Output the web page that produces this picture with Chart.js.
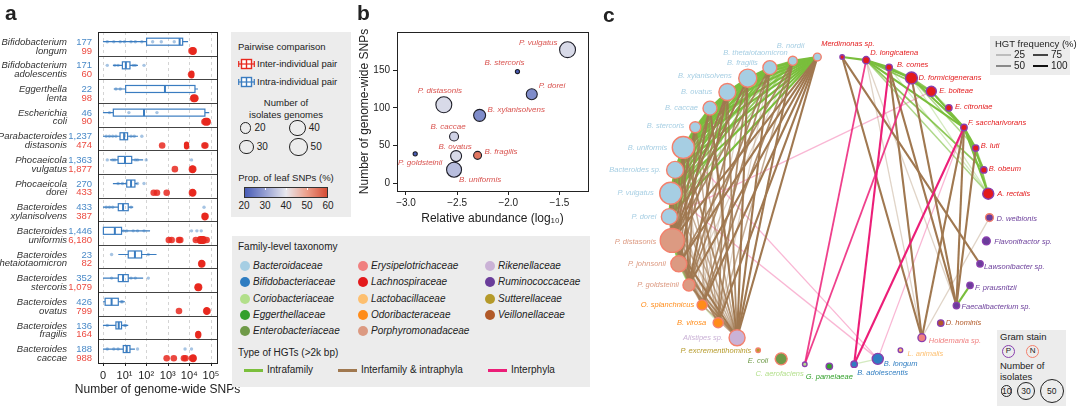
<!DOCTYPE html>
<html>
<head>
<meta charset="utf-8">
<script src="https://cdn.jsdelivr.net/npm/chart.js@4.4.1/dist/chart.umd.min.js"></script>
<style>
  body { margin: 0; background: #fff; font-family: "Liberation Sans", Arial, Helvetica, sans-serif; color: #222; }
  #wrap { position: relative; width: 1080px; height: 415px; overflow: hidden; }
  canvas { position: absolute; }
  .abs { position: absolute; white-space: nowrap; line-height: 1; }
  .panel { position: absolute; font-weight: bold; font-size: 21px; line-height: 1; }
  .box { position: absolute; background: #ececec; }
</style>
</head>
<body>
<div id="wrap">
  <canvas id="ca" width="250" height="415" style="left:0;top:0"></canvas>
  <div class="box" style="left:231px;top:32px;width:120px;height:185px"></div>
  <div class="box" style="left:232px;top:236px;width:358px;height:151px"></div>
  <canvas id="cb" width="250" height="232" style="left:355px;top:0"></canvas>
  <canvas id="cc" width="480" height="415" style="left:600px;top:0"></canvas>
  <div class="box" style="left:990px;top:36px;width:80px;height:39px"></div>
  <div class="box" style="left:997px;top:330px;width:69px;height:76px"></div>
  <div class="panel" style="left:5px;top:2px">a</div>
  <div class="panel" style="left:357px;top:2px">b</div>
  <div class="panel" style="left:603px;top:4px">c</div>
</div>
<script>
// ---------- panel a : SNPs per species (log10 scale, 0 shown at 10^0) ----------
const speciesA = [
  ['Bifidobacterium', 'longum'], ['Bifidobacterium', 'adolescentis'], ['Eggerthella', 'lenta'],
  ['Escherichia', 'coli'], ['Parabacteroides', 'distasonis'], ['Phocaeicola', 'vulgatus'],
  ['Phocaeicola', 'dorei'], ['Bacteroides', 'xylanisolvens'], ['Bacteroides', 'uniformis'],
  ['Bacteroides', 'thetaiotaomicron'], ['Bacteroides', 'stercoris'], ['Bacteroides', 'ovatus'],
  ['Bacteroides', 'fragilis'], ['Bacteroides', 'caccae']
];
const intraN = ['177', '171', '22', '46', '1,237', '1,363', '270', '433', '1,446', '23', '352', '426', '136', '188'];
const interN = ['99', '60', '98', '90', '474', '1,877', '433', '387', '6,180', '82', '1,079', '799', '164', '988'];
// [min, q1, median, q3, max] in log10 units
const intraBox = [
  [0, 2.02, 3.55, 3.69, 3.94], [0.46, 0.9, 1.06, 1.25, 1.62], [0.5, 1.05, 2.87, 4.26, 4.4],
  [0, 0.48, 1.9, 4.72, 4.92], [0, 0.79, 0.98, 1.14, 1.62], [0.32, 0.7, 1.02, 1.33, 1.86],
  [0.46, 1.1, 1.3, 1.48, 1.6], [0, 0.71, 0.93, 1.17, 1.4], [0, 0.02, 0.55, 0.86, 2.18],
  [0.71, 1.17, 1.48, 1.79, 2.48], [0, 0.71, 0.93, 1.17, 1.86], [0, 0.1, 0.4, 0.71, 1.02],
  [0, 0.6, 0.73, 0.86, 1.17], [0, 0.94, 1.1, 1.25, 1.48]
];
const interBox = [
  [4.02, 4.1, 4.15, 4.22, 4.3], [4.02, 4.07, 4.1, 4.14, 4.2], [4.1, 4.15, 4.22, 4.3, 4.38],
  [4.6, 4.7, 4.8, 4.87, 4.95], [3.8, 3.84, 3.87, 3.9, 3.95], [4.05, 4.1, 4.15, 4.2, 4.28],
  [4.05, 4.1, 4.15, 4.2, 4.28], [4.65, 4.68, 4.72, 4.76, 4.8], [4.25, 4.45, 4.55, 4.7, 4.85],
  [4.45, 4.52, 4.57, 4.62, 4.7], [4.25, 4.35, 4.41, 4.48, 4.55], [4.7, 4.76, 4.8, 4.85, 4.9],
  [4.35, 4.38, 4.41, 4.44, 4.48], [4.05, 4.12, 4.17, 4.22, 4.28]
];
const intraPts = [
  [0.2, 0.5, 0.8, 1.0, 1.3, 1.5, 1.8, 2.3, 2.7, 3.3], [0.2, 0.55, 0.7, 1.4, 1.5, 1.9], [0.6, 0.8],
  [0.3, 1.2, 2.5], [0.15, 0.3, 0.45, 0.6, 1.3, 1.45, 1.8], [0.2, 0.45, 0.55, 1.5, 1.6, 2.0, 4.1],
  [0.7, 0.9, 1.6, 1.9], [0.15, 0.3, 0.45, 1.3, 4.68], [0.95, 1.1, 1.4, 1.6, 1.9, 4.1, 4.35, 4.55],
  [0.4, 2.1], [0.4, 1.3, 1.5, 2.1], [0.85, 0.9], [0.2, 1.0, 1.05], [0.2, 0.5, 0.7, 1.6, 3.8, 4.1]
];
const interPts = [
  [4.1, 4.2], [4.08], [4.18, 4.28], [4.7, 4.85], [2.74, 4.7, 4.74], [3.33, 4.12, 4.18],
  [2.35, 2.5, 2.95, 4.12, 4.18], [4.7, 4.75], [3.05, 3.18, 3.52, 3.58, 4.3, 4.8], [4.55, 4.6],
  [4.38, 4.45], [3.52, 4.78, 4.84], [4.41], [2.95, 3.28, 3.75, 3.82, 4.12, 4.2]
];
const snpTicks = [0, 1, 2, 3, 4, 5];
const snpTickLabels = ['0', '10¹', '10²', '10³', '10⁴', '10⁵'];

// ---------- panel b ----------
const bSpecies = ['P. vulgatus', 'B. stercoris', 'P. dorei', 'P. distasonis', 'B. xylanisolvens',
  'B. caccae', 'B. ovatus', 'B. fragilis', 'P. goldsteinii', 'B. uniformis'];
const bAbundance = [-1.42, -1.91, -1.77, -2.63, -2.28, -2.53, -2.51, -2.30, -2.91, -2.53];
const bSnps = [177, 148, 118, 104, 90, 62, 36, 37, 39, 18];
const bGenomes = [44, 3, 21, 44, 25, 14, 21, 11, 3, 39];
const bLeafProp = [38, 15, 27, 38, 27, 37, 38, 55, 15, 34];
const bXTicks = [-3, -2.5, -2, -1.5];
const bYTicks = [0, 50, 100, 150];

// ---------- panel c : HGT network ----------
const families = ['Bacteroidaceae', 'Bifidobacteriaceae', 'Coriobacteriaceae', 'Eggerthellaceae', 'Enterobacteriaceae',
  'Erysipelotrichaceae', 'Lachnospiraceae', 'Lactobacillaceae', 'Odoribacteraceae', 'Porphyromonadaceae',
  'Rikenellaceae', 'Ruminococcaceae', 'Sutterellaceae', 'Veillonellaceae'];
const familyColors = ['#a6cee3', '#2f7dc1', '#b2df8a', '#33a02c', '#6f9a48',
  '#f08080', '#e31a1c', '#fdbf6f', '#ff8c1a', '#dc9a82',
  '#cab2d6', '#6a3d9a', '#b59a2a', '#b15928'];

const nodeIds = ['nor', 'the', 'fra', 'xyl', 'ova', 'cac', 'ste', 'uni', 'bsp', 'vul', 'dor', 'dis', 'joh', 'gol',
  'spl', 'vir', 'ali', 'exc', 'col', 'aer', 'pam', 'ado', 'lon', 'ani', 'hol', 'dho', 'fae', 'pra', 'law', 'fla',
  'wel', 'rec', 'obe', 'lut', 'sac', 'cit', 'bol', 'for', 'com', 'dlo', 'mer'];
const nodeNames = ['B. nordii', 'B. thetaiotaomicron', 'B. fragilis', 'B. xylanisolvens', 'B. ovatus', 'B. caccae',
  'B. stercoris', 'B. uniformis', 'Bacteroides sp.', 'P. vulgatus', 'P. dorei', 'P. distasonis', 'P. johnsonii',
  'P. goldsteinii', 'O. splanchnicus', 'B. virosa', 'Alistipes sp.', 'P. excrementihominis', 'E. coli',
  'C. aerofaciens', 'G. pamelaeae', 'B. adolescentis', 'B. longum', 'L. animalis', 'Holdemania sp.', 'D. hominis',
  'Faecalibacterium sp.', 'F. prausnitzii', 'Lawsonibacter sp.', 'Flavonifractor sp.', 'D. welbionis', 'A. rectalis',
  'B. obeum', 'B. luti', 'F. saccharivorans', 'E. citroniae', 'E. bolteae', 'D. formicigenerans', 'B. comes',
  'D. longicatena', 'Merdimonas sp.'];
const nodeFamily = ['Bacteroidaceae', 'Bacteroidaceae', 'Bacteroidaceae', 'Bacteroidaceae', 'Bacteroidaceae',
  'Bacteroidaceae', 'Bacteroidaceae', 'Bacteroidaceae', 'Bacteroidaceae', 'Bacteroidaceae', 'Bacteroidaceae',
  'Porphyromonadaceae', 'Porphyromonadaceae', 'Porphyromonadaceae', 'Odoribacteraceae', 'Odoribacteraceae',
  'Rikenellaceae', 'Sutterellaceae', 'Enterobacteriaceae', 'Coriobacteriaceae', 'Eggerthellaceae',
  'Bifidobacteriaceae', 'Bifidobacteriaceae', 'Lactobacillaceae', 'Erysipelotrichaceae', 'Veillonellaceae',
  'Ruminococcaceae', 'Ruminococcaceae', 'Ruminococcaceae', 'Ruminococcaceae', 'Ruminococcaceae',
  'Lachnospiraceae', 'Lachnospiraceae', 'Lachnospiraceae', 'Lachnospiraceae', 'Lachnospiraceae',
  'Lachnospiraceae', 'Lachnospiraceae', 'Lachnospiraceae', 'Lachnospiraceae', 'Lachnospiraceae'];
const nodeGram = ['N', 'N', 'N', 'N', 'N', 'N', 'N', 'N', 'N', 'N', 'N', 'N', 'N', 'N', 'N', 'N', 'N', 'N', 'N',
  'P', 'P', 'P', 'P', 'P', 'P', 'P', 'P', 'P', 'P', 'P', 'N', 'P', 'P', 'P', 'P', 'P', 'P', 'P', 'P', 'P', 'P'];
const nodeIsolates = [6, 8, 19, 32, 28, 19, 12, 47, 28, 47, 25, 56, 25, 14, 10, 10, 25, 2, 14, 2, 4, 4, 12, 2, 6,
  4, 4, 4, 4, 6, 6, 12, 4, 4, 4, 4, 10, 14, 4, 5, 2];
// network layout coordinates
const nodeX = [216, 190, 165.7, 142.3, 120.7, 102.3, 86.7, 74, 65.3, 60.7, 59.3, 62.3, 69.3, 80, 94, 111, 131, 153.3,
  177.7, 202.7, 228.7, 255, 280, 304, 326.7, 346.7, 363.3, 377.7, 388.3, 395, 398.3, 397, 392.3, 383.7, 371.3,
  355.3, 336.7, 315.7, 292, 267.7, 242.3];
const nodeY = [46.7, 50.7, 58, 69.3, 84, 101.3, 121.7, 143.3, 167.3, 192.3, 217.3, 242.7, 267.7, 290.3, 311.7, 330.7,
  346.7, 360, 369.3, 375, 377.3, 375, 369.3, 360, 346.7, 331, 312.3, 290.7, 267.7, 243.3, 218.3, 192.7, 167.3, 144,
  122, 101, 83.3, 69, 57.7, 50, 46.7];

// edges "a-b:frequency%"
const intraFamilyEdges = ('nor-the:100 nor-fra:100 nor-xyl:100 nor-ova:100 nor-cac:100 nor-ste:100 nor-uni:100 ' +
  'nor-bsp:100 nor-vul:100 nor-dor:100 the-fra:75 the-xyl:75 the-ova:75 the-cac:50 the-ste:50 the-uni:75 ' +
  'the-bsp:50 the-vul:75 the-dor:50 fra-xyl:100 fra-ova:100 fra-cac:75 fra-ste:50 fra-uni:100 fra-bsp:75 ' +
  'fra-vul:100 fra-dor:75 xyl-ova:100 xyl-cac:75 xyl-ste:50 xyl-uni:100 xyl-bsp:75 xyl-vul:100 xyl-dor:75 ' +
  'ova-cac:100 ova-ste:75 ova-uni:100 ova-bsp:75 ova-vul:100 ova-dor:75 cac-ste:75 cac-uni:100 cac-bsp:50 ' +
  'cac-vul:75 cac-dor:50 ste-uni:75 ste-bsp:50 ste-vul:75 ste-dor:50 uni-bsp:100 uni-vul:100 uni-dor:75 ' +
  'bsp-vul:100 bsp-dor:75 vul-dor:100 dis-joh:75 dis-gol:50 joh-gol:50 spl-vir:25 ' +
  'mer-dlo:100 dlo-com:100 dlo-for:100 dlo-bol:75 dlo-sac:100 dlo-obe:75 dlo-rec:50 com-for:75 com-bol:50 ' +
  'com-rec:25 for-bol:75 for-sac:100 bol-sac:100 for-lut:50 sac-lut:100 sac-obe:100 sac-rec:100 lut-rec:75 ' +
  'lut-obe:50 for-rec:25 bol-cit:25 fae-pra:100 ado-lon:25').split(' ');
const interFamilyEdges = ('nor-ali:100 the-ali:100 fra-ali:100 xyl-ali:100 ova-ali:75 cac-ali:100 uni-ali:75 ' +
  'ste-ali:50 bsp-ali:50 dis-ali:100 joh-ali:75 vul-ali:50 nor-vir:100 xyl-vir:75 ova-vir:75 uni-vir:50 ' +
  'dis-vir:75 nor-spl:100 the-spl:75 fra-spl:75 cac-spl:50 dis-spl:75 joh-spl:50 nor-gol:100 fra-gol:75 ' +
  'xyl-gol:75 ova-gol:100 ste-gol:75 uni-gol:100 vul-gol:75 bsp-gol:50 nor-joh:100 the-joh:75 ova-joh:75 ' +
  'cac-joh:100 uni-joh:75 ste-joh:50 vul-joh:50 nor-dis:100 fra-dis:75 xyl-dis:100 ova-dis:100 cac-dis:75 ' +
  'ste-dis:100 uni-dis:75 bsp-dis:75 vul-dis:100 dor-dis:75 the-vir:50 ste-vir:50 dor-gol:50 dor-ali:50 ' +
  'dor-spl:50 vul-spl:25 bsp-spl:25 gol-ali:75 spl-ali:50 cac-vir:25 the-gol:25 fra-vir:25 xyl-spl:25 ' +
  'ova-spl:25 uni-spl:25 bsp-vir:25 vul-vir:25 dor-vir:25 bsp-joh:25 dor-joh:25 ' +
  'mer-hol:100 mer-law:100 dlo-fae:25 com-fae:100 com-hol:100 for-fae:100 sac-fae:100 lut-fae:100 ' +
  'sac-hol:100 hol-wel:25 dlo-hol:25').split(' ');
const interPhylaEdges = ('com-ado:100 sac-ado:100 dlo-aer:75 for-aer:75 lon-sac:25 uni-lon:25 vul-lon:25 ' +
  'dor-bol:25').split(' ');
const hgtFreqLevels = [25, 50, 75, 100];
</script>
<script>
const FONT = '"Liberation Sans", Arial, Helvetica, sans-serif';
Chart.defaults.font.family = FONT;
Chart.defaults.color = '#222';
Chart.defaults.animation = false;
Chart.defaults.events = [];
Chart.defaults.plugins.legend.display = false;
Chart.defaults.plugins.tooltip.enabled = false;

const BLUE = '#3a7cc0';
const RED = '#e8281e';
const wrap = document.getElementById('wrap');

function put(x, y, html, css, anchor) {
  const d = document.createElement('div');
  d.className = 'abs';
  d.innerHTML = html;
  d.style.cssText = `left:${x}px;top:${y}px;` + (css || '');
  d.style.transform = anchor === 'c' ? 'translate(-50%,-50%)' : anchor === 'r' ? 'translate(-100%,-50%)' : 'translateY(-50%)';
  wrap.appendChild(d);
  return d;
}
function circle(cx, cy, r, border, fill) {
  const d = document.createElement('div');
  d.style.cssText = `position:absolute;left:${cx - r}px;top:${cy - r}px;width:${2 * r}px;height:${2 * r}px;` +
    `border-radius:50%;box-sizing:border-box;border:${border};background:${fill || 'transparent'}`;
  wrap.appendChild(d);
  return d;
}

// ---------------- panel a ----------------
const rowN = speciesA.length;
const yBlue = 0.41, yRed = 0.8;

function drawBox(ctx, xs, py, s, color, filled) {
  const [lo, q1, md, q3, hi] = s.map(v => xs.getPixelForValue(v));
  const h = filled ? 8 : 7;
  ctx.strokeStyle = color;
  ctx.fillStyle = color;
  ctx.lineWidth = 1.2;
  ctx.beginPath();
  ctx.moveTo(lo, py); ctx.lineTo(q1, py);
  ctx.moveTo(q3, py); ctx.lineTo(hi, py);
  ctx.stroke();
  if (filled) {
    ctx.beginPath();
    ctx.roundRect(q1 - 2, py - h / 2, q3 - q1 + 4, h, 3);
    ctx.fill();
  } else {
    ctx.strokeRect(q1, py - h / 2, q3 - q1, h);
    ctx.lineWidth = 2;
    ctx.beginPath();
    ctx.moveTo(md, py - h / 2); ctx.lineTo(md, py + h / 2);
    ctx.stroke();
  }
}

const panelAPlugin = {
  id: 'panelA',
  beforeDatasetsDraw(chart) {
    const { ctx, chartArea: ca, scales: { x, y } } = chart;
    ctx.save();
    ctx.strokeStyle = '#d4d4d4';
    ctx.lineWidth = 1;
    ctx.setLineDash([3, 3]);
    snpTicks.forEach(v => {
      const px = Math.round(x.getPixelForValue(v)) + 0.5;
      ctx.beginPath(); ctx.moveTo(px, ca.top); ctx.lineTo(px, ca.bottom); ctx.stroke();
    });
    ctx.setLineDash([]);
    ctx.restore();
  },
  afterDatasetsDraw(chart) {
    const { ctx, chartArea: ca, scales: { x, y } } = chart;
    ctx.save();
    for (let i = 0; i < rowN; i++) {
      drawBox(ctx, x, y.getPixelForValue(i + yBlue), intraBox[i], BLUE, false);
      drawBox(ctx, x, y.getPixelForValue(i + yRed), interBox[i], RED, true);
    }
    // row separators and frame
    ctx.strokeStyle = '#444';
    ctx.lineWidth = 1;
    for (let i = 1; i < rowN; i++) {
      const py = Math.round(y.getPixelForValue(i)) + 0.5;
      ctx.beginPath(); ctx.moveTo(ca.left, py); ctx.lineTo(ca.right, py); ctx.stroke();
    }
    ctx.strokeStyle = '#222';
    ctx.strokeRect(Math.round(ca.left) + 0.5, Math.round(ca.top) + 0.5, Math.round(ca.width), Math.round(ca.height));
    // tick marks
    snpTicks.forEach(v => {
      const px = Math.round(x.getPixelForValue(v)) + 0.5;
      ctx.beginPath(); ctx.moveTo(px, ca.bottom); ctx.lineTo(px, ca.bottom + 3); ctx.stroke();
    });
    // species labels and counts
    ctx.textBaseline = 'middle';
    for (let i = 0; i < rowN; i++) {
      const p1 = y.getPixelForValue(i + yBlue) + 0.5;
      const p2 = y.getPixelForValue(i + yRed);
      ctx.font = `italic 9.5px ${FONT}`;
      ctx.fillStyle = '#333';
      ctx.textAlign = 'right';
      ctx.fillText(speciesA[i][0], 67, p1);
      ctx.fillText(speciesA[i][1], 67, p2);
      ctx.font = `9.5px ${FONT}`;
      ctx.fillStyle = '#4a8ac8';
      ctx.fillText(intraN[i], 92, p1);
      ctx.fillStyle = '#ec4a40';
      ctx.fillText(interN[i], 92, p2);
    }
    // axis title (drawn here so it can extend past the narrow plot width)
    ctx.font = `12px ${FONT}`;
    ctx.fillStyle = '#222';
    ctx.textAlign = 'center';
    ctx.fillText('Number of genome-wide SNPs', (ca.left + ca.right) / 2, 390);
    ctx.restore();
  }
};

const intraPtData = [], interPtData = [];
intraPts.forEach((row, i) => row.forEach(v => intraPtData.push({ x: v, y: i + yBlue })));
interPts.forEach((row, i) => row.forEach(v => interPtData.push({ x: v, y: i + yRed })));

new Chart(document.getElementById('ca'), {
  type: 'scatter',
  data: {
    datasets: [
      { data: intraPtData, pointRadius: 1.7, backgroundColor: 'rgba(58,124,192,0.45)', borderWidth: 0 },
      { data: interPtData, pointRadius: 3.3, backgroundColor: 'rgba(232,40,30,0.85)', borderWidth: 0 }
    ]
  },
  options: {
    responsive: false,
    layout: { padding: { left: 98, right: 33, top: 32, bottom: 12 } },
    scales: {
      x: {
        type: 'linear', min: -0.23, max: 5.28,
        afterBuildTicks: s => { s.ticks = snpTicks.map(v => ({ value: v })); },
        afterFit: s => { s.height = 40; },
        grid: { display: false, drawTicks: false, tickLength: 0 }, border: { display: false },
        ticks: { padding: 6, font: { size: 11 }, color: '#222', maxRotation: 0,
          callback: v => snpTickLabels[snpTicks.indexOf(v)] },
        title: { display: false }
      },
      y: { type: 'linear', min: 0, max: rowN, reverse: true, display: false }
    }
  },
  plugins: [panelAPlugin]
});

// legend for panel a / b
function boxIcon(c) {
  return `<svg width="17" height="12" style="display:block"><line x1="0.5" y1="6" x2="16.5" y2="6" stroke="${c}" stroke-width="1.2"/>` +
    `<line x1="0.7" y1="3" x2="0.7" y2="9" stroke="${c}" stroke-width="1.2"/><line x1="16.3" y1="3" x2="16.3" y2="9" stroke="${c}" stroke-width="1.2"/>` +
    `<rect x="3.5" y="1.5" width="10" height="9" fill="#fff" stroke="${c}" stroke-width="1.4"/>` +
    `<line x1="3.5" y1="6" x2="13.5" y2="6" stroke="${c}" stroke-width="1.2"/><line x1="8.5" y1="1.5" x2="8.5" y2="10.5" stroke="${c}" stroke-width="1.4"/></svg>`;
}
const LF = 'font-size:9.5px;';
put(238, 47, 'Pairwise comparison', LF);
put(238, 64, boxIcon(RED));
put(257, 64, 'Inter-individual pair', LF);
put(238, 82, boxIcon(BLUE));
put(257, 82, 'Intra-individual pair', LF);
put(286, 103, 'Number of', LF, 'c');
put(286, 115, 'isolates genomes', LF, 'c');
const genomeLegend = [20, 30, 40, 50];
const genomeLegendPos = [[245.5, 128], [246.5, 147], [297.5, 128], [298.5, 147]];
const bubbleR = n => 1.2 * Math.sqrt(n);
genomeLegend.forEach((n, i) => {
  const [cx, cy] = genomeLegendPos[i];
  const r = bubbleR(n) + 0.6;
  circle(cx, cy, r, '1.3px solid #222');
  put(cx + r + 3, cy, String(n), 'font-size:10px;');
});
put(286, 178, 'Prop. of leaf SNPs (%)', LF, 'c');
const propTicks = [20, 30, 40, 50, 60];
const propStops = [[20, [72, 92, 182]], [30, [150, 160, 210]], [40, [232, 232, 238]], [50, [236, 160, 140]], [60, [214, 76, 52]]];
function propColor(p) {
  p = Math.max(20, Math.min(60, p));
  for (let k = 0; k < propStops.length - 1; k++) {
    const [a, ca] = propStops[k], [b, cb] = propStops[k + 1];
    if (p <= b) {
      const t = (p - a) / (b - a);
      return `rgb(${ca.map((c, j) => Math.round(c + (cb[j] - c) * t)).join(',')})`;
    }
  }
}
const bar = document.createElement('div');
bar.style.cssText = 'position:absolute;left:244px;top:187px;width:84px;height:11px;box-sizing:border-box;border:1px solid #333;' +
  `background:linear-gradient(to right,${propTicks.map(propColor).join(',')})`;
wrap.appendChild(bar);
propTicks.forEach((p, i) => {
  const px = 244 + i * 21;
  if (i > 0 && i < propTicks.length - 1) {
    const t = document.createElement('div');
    t.style.cssText = `position:absolute;left:${px}px;top:188px;width:1px;height:2px;background:#fff`;
    wrap.appendChild(t);
  }
  put(px, 206, String(p), 'font-size:10px;', 'c');
});

// family legend
put(238, 247, 'Family-level taxonomy', 'font-size:10px;');
const famColX = [245, 363, 490];
const famRowY = [266, 282.3, 298.5, 314.7, 331];
families.forEach((f, i) => {
  const col = Math.floor(i / 5), row = i % 5;
  circle(famColX[col], famRowY[row], 5, 'none', familyColors[i]);
  put(famColX[col] + 8, famRowY[row], f, 'font-size:10px;font-style:italic;');
});
put(238, 353, 'Type of HGTs (&gt;2k bp)', 'font-size:10px;');
const hgtTypes = ['Intrafamily', 'Interfamily &amp; intraphyla', 'Interphyla'];
const hgtTypeColors = ['#7bbf3c', '#a0784f', '#ec1e78'];
const hgtTypeX = [244, 338, 488];
hgtTypes.forEach((t, i) => {
  const l = document.createElement('div');
  l.style.cssText = `position:absolute;left:${hgtTypeX[i]}px;top:369px;width:19px;height:2.5px;background:${hgtTypeColors[i]}`;
  wrap.appendChild(l);
  put(hgtTypeX[i] + 23, 370, t, 'font-size:10px;');
});

// ---------------- panel b ----------------
const bLabelPos = [[-10, -7, 'right'], [-13, -9, 'center'], [7, -8, 'left'], [-4, -14, 'center'], [8, -6, 'left'],
  [-6, -10, 'center'], [-1, -9, 'center'], [7, -4, 'left'], [5, 9, 'center'], [5, 10, 'left']];
const panelBPlugin = {
  id: 'panelB',
  afterDatasetsDraw(chart) {
    const { ctx, chartArea: ca, scales: { x, y } } = chart;
    ctx.save();
    ctx.strokeStyle = '#222';
    ctx.lineWidth = 1;
    ctx.strokeRect(Math.round(ca.left) + 0.5, Math.round(ca.top) + 0.5, Math.round(ca.width), Math.round(ca.height));
    ctx.font = `italic 8px ${FONT}`;
    ctx.fillStyle = '#d9534f';
    ctx.textBaseline = 'middle';
    bSpecies.forEach((s, i) => {
      const [dx, dy, al] = bLabelPos[i];
      ctx.textAlign = al;
      ctx.fillText(s, x.getPixelForValue(bAbundance[i]) + dx, y.getPixelForValue(bSnps[i]) + dy);
    });
    ctx.restore();
  }
};
new Chart(document.getElementById('cb'), {
  type: 'bubble',
  data: {
    datasets: [{
      data: bAbundance.map((a, i) => ({ x: a, y: bSnps[i], r: bubbleR(bGenomes[i]) })),
      backgroundColor: bLeafProp.map(propColor),
      borderColor: '#1e1e28',
      borderWidth: 1.1
    }]
  },
  options: {
    responsive: false,
    layout: { padding: { left: 0, right: 17, top: 32, bottom: 4 } },
    scales: {
      x: {
        type: 'linear', min: -3.088, max: -1.22,
        afterBuildTicks: s => { s.ticks = bXTicks.map(v => ({ value: v })); },
        afterFit: s => { s.height = 37; },
        grid: { display: true, drawOnChartArea: false, tickLength: 4, color: '#222' },
        border: { display: true, color: '#222' },
        ticks: { padding: 2, font: { size: 10 }, color: '#222', callback: v => v.toFixed(1).replace('-', '−') },
        title: { display: true, text: 'Relative abundance (log₁₀)', font: { size: 12 }, color: '#222', padding: { top: 0, bottom: 2 } }
      },
      y: {
        type: 'linear', min: -10.2, max: 200.4,
        afterBuildTicks: s => { s.ticks = bYTicks.map(v => ({ value: v })); },
        afterFit: s => { s.width = 42; },
        grid: { display: true, drawOnChartArea: false, tickLength: 4, color: '#222' },
        border: { display: true, color: '#222' },
        ticks: { padding: 3, font: { size: 10 }, color: '#222' },
        title: { display: true, text: 'Number of genome-wide SNPs', font: { size: 12 }, color: '#222', padding: { top: 2, bottom: 0 } }
      }
    }
  },
  plugins: [panelBPlugin]
});

// ---------------- panel c ----------------
const GRAM_COLOR = { P: '#8a3fae', N: '#f4806c' };
const famColor = f => familyColors[families.indexOf(f)];
const nodeR = n => 1.6 * Math.sqrt(n);
const freqAlpha = { 25: 0.32, 50: 0.6, 75: 0.85, 100: 1 };
const freqWidth = { 25: 1.3, 50: 1.5, 75: 1.8, 100: 2.1 };
const nodeLabelPos = [[-13, -11, 'right'], [-5, -8, 'right'], [-12, -5, 'right'], [-16, -2, 'right'], [-15, 0, 'right'],
  [-12, 0, 'right'], [-11, -1, 'right'], [-16, 0, 'right'], [-14, 0, 'right'], [-17, 0, 'right'], [-13, 0, 'right'],
  [-16, 1, 'right'], [-13, 0, 'right'], [-10, 0, 'right'], [-8, 0, 'right'], [-12, 0, 'right'], [-14, 0, 'right'],
  [-7, 1, 'right'], [-13, 2, 'right'], [-1, 10, 'right'], [0, 11, 'center'], [3, 9, 'left'], [6, 5, 'left'],
  [7, 4, 'left'], [7, 3, 'left'], [5, 0, 'left'], [5, 1, 'left'], [5, 3, 'left'], [4, 3, 'left'], [8, 1, 'left'],
  [7, 1, 'left'], [9, 0, 'left'], [5, -1, 'left'], [5, -2, 'left'], [4, -5, 'left'], [6, -1, 'left'], [8, 0, 'left'],
  [7, 0, 'left'], [8, -2, 'left'], [4, -7, 'left'], [-21, -13, 'left']];

const edgeDatasets = [];
[[intraFamilyEdges, '122,190,60', 3000], [interFamilyEdges, '160,120,80', 2000], [interPhylaEdges, '236,30,120', 1000]]
  .forEach(([list, rgb, base]) => list.forEach(e => {
    const [pair, fs] = e.split(':');
    const f = Number(fs);
    const [a, b] = pair.split('-').map(id => nodeIds.indexOf(id));
    edgeDatasets.push({
      type: 'line',
      data: [{ x: nodeX[a], y: nodeY[a] }, { x: nodeX[b], y: nodeY[b] }],
      borderColor: `rgba(${rgb},${freqAlpha[f]})`,
      borderWidth: freqWidth[f],
      pointRadius: 0,
      tension: 0,
      clip: false,
      order: (f === 25 ? 5000 : 0) + base - f
    });
  }));

const panelCPlugin = {
  id: 'panelC',
  afterDatasetsDraw(chart) {
    const { ctx, scales: { x, y } } = chart;
    ctx.save();
    ctx.font = `italic 7.5px ${FONT}`;
    ctx.textBaseline = 'middle';
    nodeNames.forEach((n, i) => {
      const [dx, dy, al] = nodeLabelPos[i];
      ctx.textAlign = al;
      ctx.fillStyle = famColor(nodeFamily[i]);
      ctx.fillText(n, x.getPixelForValue(nodeX[i]) + dx, y.getPixelForValue(nodeY[i]) + dy);
    });
    ctx.restore();
  }
};

new Chart(document.getElementById('cc'), {
  type: 'scatter',
  data: {
    datasets: [{
      data: nodeX.map((v, i) => ({ x: v, y: nodeY[i] })),
      pointRadius: nodeIsolates.map(nodeR),
      pointBackgroundColor: nodeFamily.map(famColor),
      pointBorderColor: nodeGram.map(g => GRAM_COLOR[g]),
      pointBorderWidth: 1.4,
      order: 0,
      clip: false
    }, ...edgeDatasets]
  },
  options: {
    responsive: false,
    layout: { padding: 0 },
    scales: {
      x: { type: 'linear', min: 0, max: 480, display: false },
      y: { type: 'linear', min: 0, max: 415, reverse: true, display: false }
    }
  },
  plugins: [panelCPlugin]
});

// HGT frequency legend
put(995, 44, 'HGT frequency (%)', 'font-size:9.5px;');
const freqGrey = { 25: '#bdbdbd', 50: '#8a8a8a', 75: '#444', 100: '#111' };
const freqLegendPos = [[996, 55], [996, 66], [1033, 55], [1033, 66]];
hgtFreqLevels.forEach((f, i) => {
  const [lx, ly] = freqLegendPos[i];
  const l = document.createElement('div');
  l.style.cssText = `position:absolute;left:${lx}px;top:${ly - 1.2}px;width:15px;height:2.5px;background:${freqGrey[f]}`;
  wrap.appendChild(l);
  put(lx + 18, ly, String(f), 'font-size:10px;');
});

// Gram stain / isolates legend
put(1000, 337, 'Gram stain', 'font-size:9.5px;');
[['P', 1008.3], ['N', 1032.7]].forEach(([g, cx]) => {
  circle(cx, 351, 6.5, `1.4px solid ${GRAM_COLOR[g]}`);
  put(cx, 351, g, 'font-size:8px;', 'c');
});
put(1000, 366, 'Number of', 'font-size:9.5px;');
put(1000, 377, 'isolates', 'font-size:9.5px;');
const isoLegend = [10, 30, 50];
const isoLegendX = [1006.7, 1026, 1051.7];
isoLegend.forEach((n, i) => {
  const r = nodeR(n) + 0.7;
  circle(isoLegendX[i], 391, r, '1.1px solid #222');
  put(isoLegendX[i], 391, String(n), 'font-size:8.5px;', 'c');
});
</script>
</body>
</html>
